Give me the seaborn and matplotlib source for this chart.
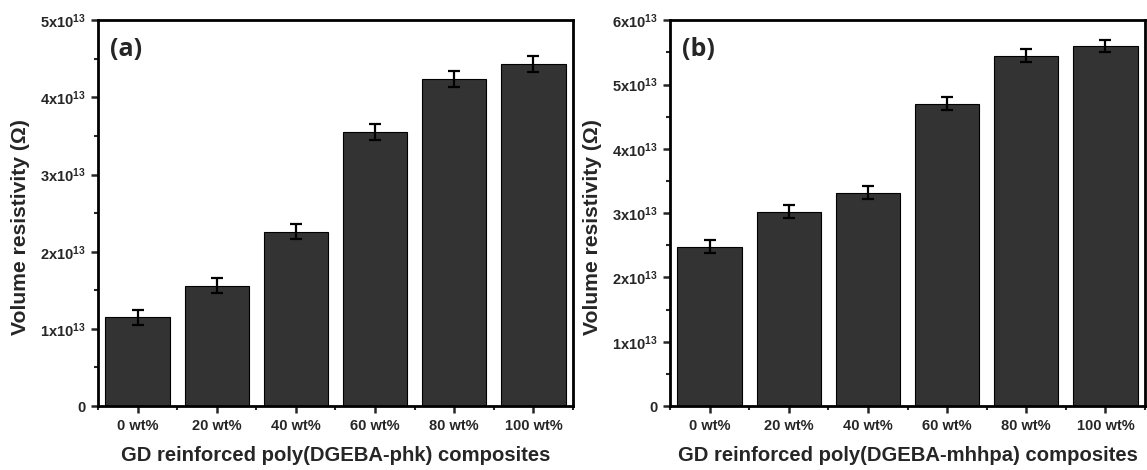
import matplotlib
matplotlib.use("Agg")
import matplotlib.pyplot as plt
import matplotlib.ticker as mticker
import seaborn as sns
import pandas as pd

# Filler loading levels
categories = ["0 wt%", "20 wt%", "40 wt%", "60 wt%", "80 wt%", "100 wt%"]

# Volume resistivity (Ohm) and its uncertainty, phk-cured series
phk_values = [1.15e13, 1.56e13, 2.26e13, 3.55e13, 4.24e13, 4.43e13]
phk_errors = [0.10e13, 0.10e13, 0.10e13, 0.10e13, 0.10e13, 0.10e13]

# Volume resistivity (Ohm) and its uncertainty, mhhpa-cured series
mhhpa_values = [2.48e13, 3.02e13, 3.32e13, 4.70e13, 5.45e13, 5.60e13]
mhhpa_errors = [0.10e13, 0.10e13, 0.10e13, 0.10e13, 0.10e13, 0.10e13]

panel_letters = ["(a)", "(b)"]
x_titles = ["GD reinforced poly(DGEBA-phk) composites",
            "GD reinforced poly(DGEBA-mhhpa) composites"]
y_title = "Volume resistivity (\u03a9)"
y_max = [5e13, 6e13]

sns.set_theme(style="white")
plt.rcParams["font.family"] = ["Liberation Sans", "DejaVu Sans"]
plt.rcParams["font.weight"] = "bold"
plt.rcParams["mathtext.default"] = "regular"

fig = plt.figure(figsize=(11.47, 4.70), dpi=100)
ax_a = fig.add_axes([0.0854, 0.136, 0.4142, 0.821])
ax_b = fig.add_axes([0.5841, 0.136, 0.4142, 0.821])


def sci_label(v, pos):
    if v == 0:
        return "0"
    return "%dx10$^{13}$" % round(v / 1e13)


for ax, vals, errs, letter, xt, ym in zip(
        [ax_a, ax_b], [phk_values, mhhpa_values], [phk_errors, mhhpa_errors],
        panel_letters, x_titles, y_max):
    df = pd.DataFrame({"load": categories, "rho": vals})
    sns.barplot(data=df, x="load", y="rho", color="#333333", saturation=1,
                width=0.81, edgecolor="black", linewidth=0.8, ax=ax)
    ax.errorbar(range(len(categories)), vals, yerr=errs, fmt="none",
                ecolor="black", elinewidth=1.6, capsize=4.5, capthick=1.6)

    ax.set_xlim(-0.5, len(categories) - 0.5)
    ax.set_ylim(0, ym)
    ax.yaxis.set_major_locator(mticker.MultipleLocator(1e13))
    ax.yaxis.set_minor_locator(mticker.MultipleLocator(0.5e13))
    ax.yaxis.set_major_formatter(mticker.FuncFormatter(sci_label))
    ax.xaxis.set_minor_locator(mticker.FixedLocator(
        [i + 0.5 for i in range(-1, len(categories))]))

    ax.tick_params(axis="both", which="major", direction="out", length=5,
                   width=1.8, labelsize=10.5, pad=4)
    ax.tick_params(axis="both", which="minor", direction="out", length=3,
                   width=1.5)
    ax.tick_params(axis="x", which="both", bottom=True)
    ax.tick_params(axis="y", which="both", left=True)
    for lab in ax.get_xticklabels() + ax.get_yticklabels():
        lab.set_fontweight("bold")

    for sp in ax.spines.values():
        sp.set_visible(True)
        sp.set_color("black")
        sp.set_linewidth(2.0)

    ax.set_xlabel(xt, fontsize=14.6, fontweight="bold", labelpad=10)
    ax.set_ylabel(y_title, fontsize=15.2, fontweight="bold", labelpad=7)
    ax.yaxis.label.set_y(0.465)
    ax.text(0.025, 0.925, letter, transform=ax.transAxes, fontsize=18,
            fontweight="bold", family=["Open Sans", "DejaVu Sans"],
            ha="left", va="center")

fig.savefig("out.png", dpi=100, facecolor="white")
